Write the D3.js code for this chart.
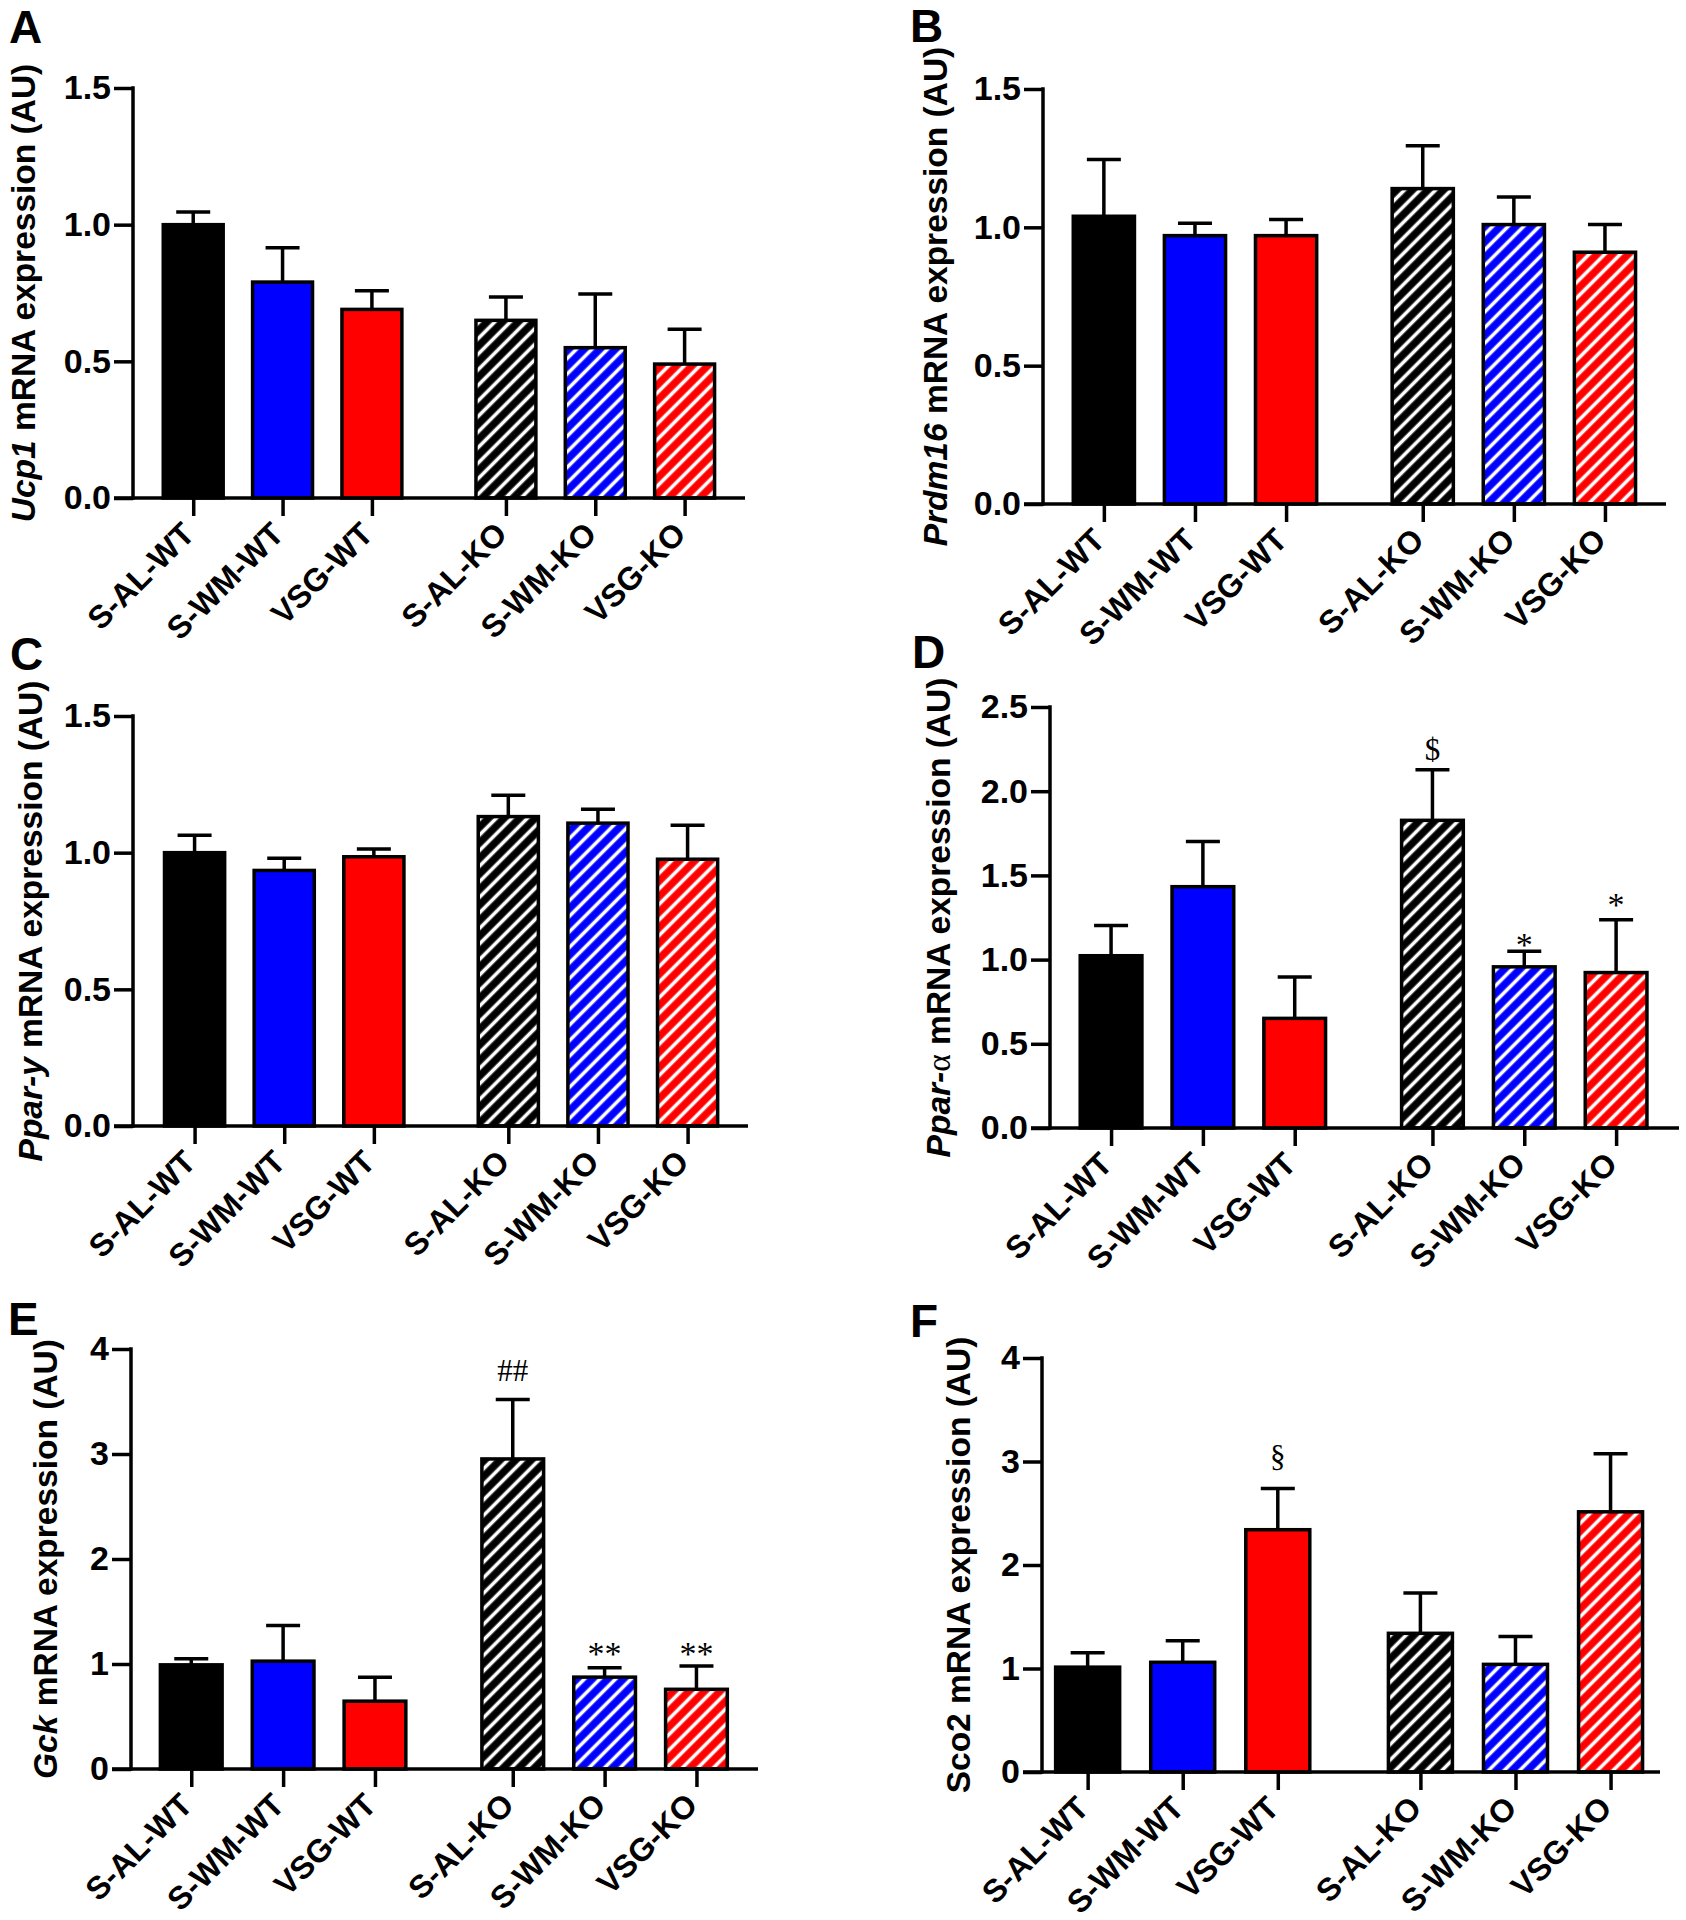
<!DOCTYPE html>
<html><head><meta charset="utf-8">
<script src="https://cdn.jsdelivr.net/npm/d3@7"></script>
<style>body{margin:0;background:#fff} svg{display:block}</style>
</head><body><svg id="c" width="1686" height="1920"></svg>
<script>
// ---------- data ----------
const categories = ["S-AL-WT","S-WM-WT","VSG-WT","S-AL-KO","S-WM-KO","VSG-KO"];
const groupPositions = [0, 1, 2, 3.5, 4.5, 5.5];
const barColors = ["#000000","#0000ff","#ff0000","#000000","#0000ff","#ff0000"];
const hatched = [false,false,false,true,true,true];

const ucp1Mean = [1.00, 0.79, 0.69, 0.65, 0.55, 0.49];
const ucp1Sem  = [0.046, 0.126, 0.068, 0.085, 0.196, 0.127];

const prdm16Mean = [1.04, 0.97, 0.97, 1.14, 1.01, 0.91];
const prdm16Sem  = [0.205, 0.045, 0.058, 0.155, 0.10, 0.10];

const pparGMean = [1.00, 0.935, 0.985, 1.132, 1.108, 0.976];
const pparGSem  = [0.064, 0.045, 0.028, 0.078, 0.051, 0.124];

const pparAMean = [1.023, 1.433, 0.651, 1.827, 0.957, 0.923];
const pparASem  = [0.18, 0.268, 0.246, 0.301, 0.093, 0.314];
const pparAMarks = ["", "", "", "$", "*", "*"];
const pparAMarkLevel = [null, null, null, 2.25, 1.13, 1.37];

const gckMean = [0.992, 1.027, 0.646, 2.953, 0.875, 0.759];
const gckSem  = [0.059, 0.339, 0.229, 0.565, 0.09, 0.222];
const gckMarks = ["", "", "", "##", "**", "**"];
const gckMarkLevel = [null, null, null, 3.80, 1.17, 1.17];

const sco2Mean = [1.013, 1.060, 2.341, 1.340, 1.040, 2.514];
const sco2Sem  = [0.138, 0.209, 0.398, 0.39, 0.268, 0.56];
const sco2Marks = ["", "", "§", "", "", ""];
const sco2MarkLevel = [null, null, 3.05, null, null, null];

const ticks15 = [0, 0.5, 1.0, 1.5];
const ticks25 = [0, 0.5, 1.0, 1.5, 2.0, 2.5];
const ticks4  = [0, 1, 2, 3, 4];

// ---------- panel definitions ----------
const panels = [
  {letter:"A", title:[["Ucp1","i"],[" mRNA expression (AU)",""]], mean:ucp1Mean, sem:ucp1Sem, ticks:ticks15, fmt:".1f",
   L:{x0:133,x1:745,yT:88,yB:498,padL:0.674,padR:0.676,titleX:35,lx:9,ly:43}},
  {letter:"B", title:[["Prdm16","i"],[" mRNA expression (AU)",""]], mean:prdm16Mean, sem:prdm16Sem, ticks:ticks15, fmt:".1f",
   L:{x0:1043,x1:1666,yT:89,yB:504,padL:0.668,padR:0.67,titleX:947,lx:910,ly:42}},
  {letter:"C", title:[["Ppar-y","i"],[" mRNA expression (AU)",""]], mean:pparGMean, sem:pparGSem, ticks:ticks15, fmt:".1f",
   L:{x0:133,x1:748,yT:716,yB:1126,padL:0.687,padR:0.674,titleX:42,lx:10,ly:670}},
  {letter:"D", title:[["Ppar-","i"],["\u03b1","g"],[" mRNA expression (AU)",""]], mean:pparAMean, sem:pparASem, ticks:ticks25, fmt:".1f",
   marks:pparAMarks, markLevel:pparAMarkLevel,
   L:{x0:1050,x1:1679,yT:707,yB:1128,padL:0.665,padR:0.685,titleX:950,lx:912,ly:668}},
  {letter:"E", title:[["Gck","i"],[" mRNA expression (AU)",""]], mean:gckMean, sem:gckSem, ticks:ticks4, fmt:"d",
   marks:gckMarks, markLevel:gckMarkLevel,
   L:{x0:131,x1:758,yT:1349,yB:1769,padL:0.656,padR:0.67,titleX:57,lx:8,ly:1335}},
  {letter:"F", title:[["Sco2 mRNA expression (AU)",""]], mean:sco2Mean, sem:sco2Sem, ticks:ticks4, fmt:"d",
   marks:sco2Marks, markLevel:sco2MarkLevel,
   L:{x0:1042,x1:1660,yT:1358,yB:1772,padL:0.48,padR:0.52,titleX:970,lx:910,ly:1337}}
];

const SANS = "'Liberation Sans', Arial, Helvetica, sans-serif";
const NARROW = "'Liberation Sans Narrow', 'Arial Narrow', 'Liberation Sans', sans-serif";
const SERIF = "'Liberation Serif', 'Times New Roman', serif";
const SW = 3.5;
const HP = 11; // hatch period

const svg = d3.select("#c");
svg.append("rect").attr("width",1686).attr("height",1920).attr("fill","#fff");

// hatch patterns
const defs = svg.append("defs");
const uniqueColors = Array.from(new Set(barColors));
uniqueColors.forEach((c,i)=>{
  const p = defs.append("pattern").attr("id","hatch"+i)
    .attr("patternUnits","userSpaceOnUse").attr("width",HP).attr("height",HP)
    .attr("patternTransform","rotate(45)");
  p.append("rect").attr("width",HP).attr("height",HP).attr("fill",c);
  p.append("line").attr("x1",HP/2).attr("x2",HP/2).attr("y1",-1).attr("y2",HP+1)
    .attr("stroke","#fff").attr("stroke-width",3.6);
});
const fillFor = i => hatched[i] ? `url(#hatch${uniqueColors.indexOf(barColors[i])})` : barColors[i];

panels.forEach(P=>{
  const L = P.L;
  const g = svg.append("g");
  const yMax = d3.max(P.ticks);
  const y = d3.scaleLinear().domain([0,yMax]).range([L.yB,L.yT]);
  const x = d3.scaleLinear().domain([-L.padL, 5.5+L.padR]).range([L.x0,L.x1]);
  const step = x(1)-x(0);
  const bw = step*0.71;
  const data = categories.map((c,i)=>({c,i,pos:groupPositions[i],m:P.mean[i],s:P.sem[i],
    mark:P.marks?P.marks[i]:"", ml:P.markLevel?P.markLevel[i]:null}));

  // error bars
  const eb = g.append("g").attr("stroke","#000").attr("stroke-width",SW).attr("fill","none");
  eb.selectAll("line.v").data(data).join("line").attr("class","v")
    .attr("x1",d=>x(d.pos)).attr("x2",d=>x(d.pos))
    .attr("y1",d=>y(d.m)).attr("y2",d=>y(d.m+d.s));
  eb.selectAll("line.cap").data(data).join("line").attr("class","cap")
    .attr("x1",d=>x(d.pos)-17).attr("x2",d=>x(d.pos)+17)
    .attr("y1",d=>y(d.m+d.s)).attr("y2",d=>y(d.m+d.s));

  // bars
  g.append("g").selectAll("rect").data(data).join("rect")
    .attr("x",d=>x(d.pos)-bw/2+SW/2).attr("width",bw-SW)
    .attr("y",d=>y(d.m)).attr("height",d=>y(0)-y(d.m))
    .attr("fill",d=>fillFor(d.i)).attr("stroke","#000").attr("stroke-width",SW);

  // y axis
  const ya = g.append("g").attr("transform",`translate(${L.x0},0)`)
    .call(d3.axisLeft(y).tickValues(P.ticks).tickFormat(d3.format(P.fmt)).tickSize(19).tickPadding(3));
  ya.select(".domain").attr("d",`M0,${L.yT}V${L.yB}`).attr("stroke-width",SW).attr("stroke-linecap","square");
  ya.selectAll(".tick line").attr("stroke-width",SW);
  ya.selectAll(".tick text").attr("font-family",NARROW).attr("font-weight","bold")
    .attr("font-size",34).attr("fill","#000");

  // x axis
  const xa = g.append("g").attr("transform",`translate(0,${L.yB})`)
    .call(d3.axisBottom(x).tickValues(groupPositions).tickFormat("").tickSize(18));
  xa.select(".domain").attr("d",`M${L.x0-19},0H${L.x1}`).attr("stroke-width",SW);
  xa.selectAll(".tick line").attr("stroke-width",SW);

  // x labels
  g.append("g").selectAll("text").data(data).join("text")
    .attr("transform",d=>`translate(${x(d.pos)+3},${L.yB+38}) rotate(-45)`)
    .attr("text-anchor","end").attr("font-family",SANS).attr("font-weight","bold")
    .attr("font-size",32).attr("fill","#000").text(d=>d.c);

  // y title
  const t = g.append("text")
    .attr("transform",`translate(${L.titleX},${(L.yT+L.yB)/2}) rotate(-90)`)
    .attr("text-anchor","middle").attr("font-family",SANS).attr("font-weight","bold")
    .attr("font-size",33.5).attr("fill","#000");
  P.title.forEach(([s,st])=>{
    const ts = t.append("tspan").text(s);
    if(st==="i") ts.attr("font-style","italic");
    if(st==="g") ts.attr("font-family",SERIF).attr("font-weight","normal");
  });

  // significance marks
  g.append("g").selectAll("text").data(data.filter(d=>d.mark)).join("text")
    .attr("x",d=>x(d.pos)).attr("y",d=>y(d.ml))
    .attr("dy",d=>d.mark.startsWith("*")?"0.55em":"0.35em")
    .attr("text-anchor","middle").attr("font-family",SERIF)
    .attr("font-size",d=>d.mark.startsWith("*")?34:31)
    .attr("fill","#000").text(d=>d.mark);

  // panel letter
  g.append("text").attr("x",L.lx).attr("y",L.ly).attr("font-family",SANS)
    .attr("font-weight","bold").attr("font-size",46).attr("fill","#000").text(P.letter);
});
</script></body></html>
